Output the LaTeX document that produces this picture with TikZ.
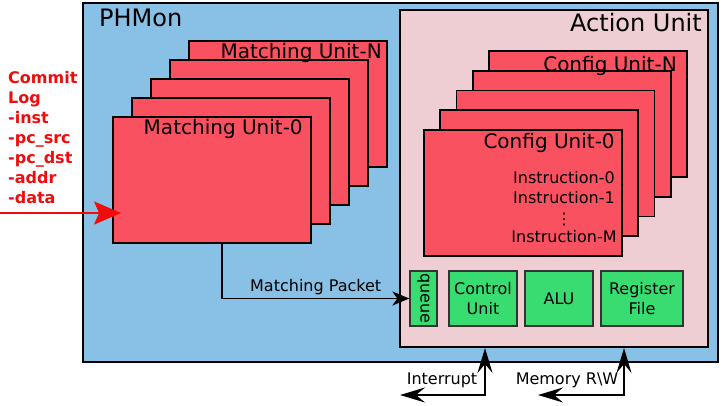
\documentclass[tikz,border=0pt]{standalone}
\usepackage{fontspec}
\setmainfont{DejaVu Sans}
\usetikzlibrary{arrows.meta,positioning}
\definecolor{phmonblue}{RGB}{137,192,230}
\definecolor{actionpink}{RGB}{238,205,211}
\definecolor{unitred}{RGB}{249,81,95}
\definecolor{hwgreen}{RGB}{57,220,112}
\definecolor{logred}{RGB}{240,12,12}

\tikzset{
  lbl/.style={inner sep=0pt},
  bigfont/.style={font=\fontsize{24}{28}\selectfont},
  midfont/.style={font=\fontsize{20}{24}\selectfont},
  smallfont/.style={font=\fontsize{16}{20}\selectfont},
  unitbox/.style={draw=black,fill=unitred,line width=1.8pt,minimum width=198pt,minimum height=126pt,inner sep=0pt},
  hwbox/.style={draw=black!80,fill=hwgreen,line width=1.3pt,minimum height=55pt,inner sep=0pt,align=center,smallfont},
  biarrow/.style={line width=1.5pt,{Stealth[length=25pt,width=15pt,inset=9pt]}-{Stealth[length=25pt,width=15pt,inset=9pt]}}
}

\begin{document}
\begin{tikzpicture}[x=1pt,y=-1pt]
\useasboundingbox (0,0) rectangle (722,405);
\node [draw=black,fill=phmonblue,line width=2.5pt,minimum width=635pt,minimum height=359pt,inner sep=0pt] (phmon) at (400.5,182.5) {};
\node [lbl,bigfont,anchor=base west] (phmonlabel) at (99,26) {PHMon};

\node [draw=black,fill=actionpink,line width=2pt,minimum width=308pt,minimum height=337pt,inner sep=0pt] (au) at (554,178.5) {};
\node [lbl,bigfont,anchor=base east] (aulabel) at (702,31) {Action Unit};

\foreach \i in {4,3,2,1}
  \node [unitbox] (mu\i) at (212+19*\i,180-19*\i) {};
\node [unitbox] (mu0) at (212,180) {};
\node [lbl,midfont,anchor=base east] (munlabel) at ([xshift=-6pt,yshift=-18pt]mu4.north east) {Matching Unit-N};
\node [lbl,midfont,anchor=base east] (mu0label) at ([xshift=-9pt,yshift=-18pt]mu0.north east) {Matching Unit-0};

\foreach \i in {4,3,2,1}
  \node [unitbox] (cu\i) at (523+16.25*\i,193-19.75*\i) {};
\node [unitbox] (cu0) at (523,193) {};
\node [lbl,midfont,anchor=base east] (cunlabel) at ([xshift=-11pt,yshift=-21pt]cu4.north east) {Config Unit-N};
\node [lbl,midfont,anchor=base east] (cu0label) at ([xshift=-8pt,yshift=-19pt]cu0.north east) {Config Unit-0};
\node [lbl,smallfont,anchor=base] (instr0) at (564,183) {Instruction-0};
\node [lbl,smallfont,anchor=base] (instr1) at (564,203) {Instruction-1};
\node [lbl,smallfont,anchor=base] (instrdots) at (564,224) {⋮};
\node [lbl,smallfont,anchor=base] (instrm) at (564,242) {Instruction-M};

\node [hwbox,minimum width=27pt] (queue) at (423.5,298.5) {\rotatebox{-90}{queue}};
\node [hwbox,minimum width=68pt] (ctrl) at (483,298.5) {Control\\Unit};
\node [hwbox,minimum width=68pt] (alu) at (559,298.5) {ALU};
\node [hwbox,minimum width=82pt] (regfile) at (642,298.5) {Register\\File};

\draw [line width=1.4pt,-{Stealth[length=17pt,width=14pt,inset=5pt]}] ([xshift=10pt]mu0.south) |- node [pos=0.75,above,smallfont] (pktlabel) {Matching Packet} (queue.west);

\foreach \t [count=\k from 0] in {Commit,Log,-inst,-pc\_src,-pc\_dst,-addr,-data}
  \node [lbl,anchor=base west,text=logred,font=\bfseries\fontsize{16}{20}\selectfont] (log\k) at (8,83+20*\k) {\t};
\coordinate (logsrc) at (0,213);
\draw [logred,line width=1.6pt,-{Stealth[length=27pt,width=23pt,inset=5pt]}] (logsrc) -- ([xshift=9pt]mu0.west |- logsrc);

\coordinate (intout) at (400,395);
\coordinate (intport) at ([xshift=-69pt]au.south);
\coordinate (memout) at (538,395);
\coordinate (memport) at ([xshift=70pt]au.south);
\draw [biarrow] (intout) -| (intport);
\draw [biarrow] (memout) -| (memport);
\node [lbl,smallfont,anchor=base] (intlabel) at (442,384) {Interrupt};
\node [lbl,smallfont,anchor=base] (memlabel) at (567,384) {Memory R\textbackslash W};
\end{tikzpicture}
\end{document}
